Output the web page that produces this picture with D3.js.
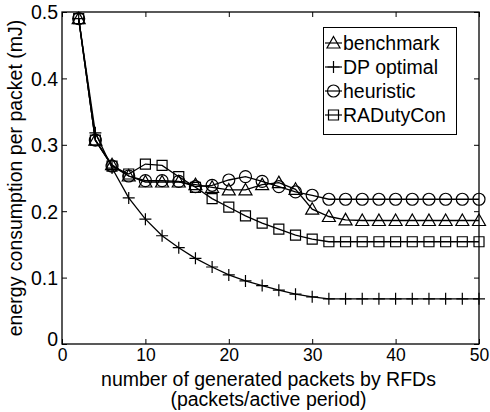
<!DOCTYPE html>
<html><head><meta charset="utf-8">
<script src="https://cdn.jsdelivr.net/npm/d3@7/dist/d3.min.js"></script>
<style>body{margin:0;background:#fff}svg{display:block}text{font-family:"Liberation Sans",Arial,sans-serif}</style>
</head><body><svg id="c" width="490" height="412"></svg>
<script>
const xs = [2,4,6,8,10,12,14,16,18,20,22,24,26,28,30,32,34,36,38,40,42,44,46,48,50];
const benchmark = [0.490,0.307,0.270,0.253,0.244,0.244,0.244,0.240,0.236,0.232,0.232,0.240,0.243,0.233,0.203,0.192,0.187,0.186,0.186,0.186,0.186,0.186,0.186,0.186,0.186];
const dpOptimal = [0.490,0.318,0.265,0.220,0.188,0.163,0.145,0.129,0.116,0.104,0.095,0.088,0.081,0.075,0.071,0.068,0.068,0.068,0.068,0.068,0.068,0.068,0.068,0.068,0.068];
const heuristic = [0.490,0.307,0.268,0.253,0.246,0.246,0.245,0.237,0.239,0.247,0.252,0.245,0.237,0.229,0.224,0.218,0.218,0.218,0.218,0.218,0.218,0.218,0.218,0.218,0.218];
const raDutyCon = [0.490,0.307,0.268,0.256,0.271,0.269,0.252,0.236,0.219,0.206,0.193,0.182,0.173,0.164,0.158,0.154,0.154,0.154,0.154,0.154,0.154,0.154,0.154,0.154,0.154];
const seriesNames = ["benchmark","DP optimal","heuristic","RADutyCon"];
const seriesMarkers = ["triangle","plus","circle","square"];
const xTicks = [0,10,20,30,40,50];
const yTicks = [0,0.1,0.2,0.3,0.4,0.5];
const xLabel1 = "number of generated packets by RFDs";
const xLabel2 = "(packets/active period)";
const yLabel = "energy consumption per packet (mJ)";

const seriesVals = [benchmark, dpOptimal, heuristic, raDutyCon];
const svg = d3.select("#c");
const L=62, R=479, T=12, B=344;
const x = d3.scaleLinear().domain([0,50]).range([L,R]);
const y = d3.scaleLinear().domain([0,0.5]).range([B,T]);
const FS = 19.5, TFS = 17.5;

svg.append("rect").attr("x",L).attr("y",T).attr("width",R-L).attr("height",B-T)
  .attr("fill","none").attr("stroke","#000").attr("stroke-width",1.3);

const gx = svg.append("g").attr("transform",`translate(0,${B})`)
  .call(d3.axisBottom(x).tickValues(xTicks).tickSize(-5).tickPadding(5).tickFormat(d3.format("d")));
const gxt = svg.append("g").attr("transform",`translate(0,${T})`)
  .call(d3.axisTop(x).tickValues(xTicks).tickSize(-5).tickFormat(""));
const gy = svg.append("g").attr("transform",`translate(${L},0)`)
  .call(d3.axisLeft(y).tickValues(yTicks).tickSize(-5).tickPadding(4).tickFormat(d=>d===0?"0":d3.format(".1f")(d)));
const gyr = svg.append("g").attr("transform",`translate(${R},0)`)
  .call(d3.axisRight(y).tickValues(yTicks).tickSize(-5).tickFormat(""));
[gx,gxt,gy,gyr].forEach(g=>{
  g.select(".domain").remove();
  g.selectAll("line").attr("stroke","#000");
  g.selectAll("text").attr("fill","#000").style("font-size",TFS+"px").style("font-family",'"Liberation Sans",Arial,sans-serif');
});
gy.selectAll("text").style("font-size",FS+"px").attr("dy","0.35em");
gy.selectAll(".tick").filter(d=>d===0).select("text").attr("dy","0.1em");

svg.append("text").attr("x",(L+R)/2-2).attr("y",386).attr("text-anchor","middle").style("font-size",FS+"px").text(xLabel1);
svg.append("text").attr("x",(L+R)/2-2).attr("y",406).attr("text-anchor","middle").style("font-size",FS+"px").text(xLabel2);
svg.append("text").attr("transform",`translate(22,${(T+B)/2}) rotate(-90)`).attr("text-anchor","middle").style("font-size",FS+"px").text(yLabel);

function drawMarker(g, type, cx, cy){
  const s = g.append("path").attr("fill","none").attr("stroke","#000").attr("stroke-width",1.2);
  let d;
  if(type==="triangle") d=`M${cx},${cy-6.5}L${cx+6.5},${cy+5}L${cx-6.5},${cy+5}Z`;
  else if(type==="plus") d=`M${cx-6},${cy}L${cx+6},${cy}M${cx},${cy-6}L${cx},${cy+6}`;
  else if(type==="circle") d=`M${cx+6},${cy}A6,6 0 1,1 ${cx-6},${cy}A6,6 0 1,1 ${cx+6},${cy}`;
  else d=`M${cx-5},${cy-5}H${cx+5}V${cy+5}H${cx-5}Z`;
  s.attr("d",d);
}

const line = d3.line().x(d=>x(d[0])).y(d=>y(d[1]));
seriesVals.forEach((vals,i)=>{
  const pts = xs.map((v,j)=>[v,vals[j]]);
  const g = svg.append("g");
  g.append("path").attr("d",line(pts)).attr("fill","none").attr("stroke","#000").attr("stroke-width",1.3);
  pts.forEach(p=>drawMarker(g, seriesMarkers[i], x(p[0]), y(p[1])));
});

const lg = svg.append("g");
lg.append("rect").attr("x",323.5).attr("y",27.5).attr("width",133).attr("height",107)
  .attr("fill","#fff").attr("stroke","#000").attr("stroke-width",1);
seriesNames.forEach((n,i)=>{
  const cy = 43 + i*24;
  lg.append("line").attr("x1",325).attr("x2",342).attr("y1",cy).attr("y2",cy).attr("stroke","#000").attr("stroke-width",1.2);
  drawMarker(lg, seriesMarkers[i], 333.5, cy);
  lg.append("text").attr("x",343).attr("y",cy).attr("dy","0.35em").style("font-size",FS+"px").text(n);
});
</script></body></html>
